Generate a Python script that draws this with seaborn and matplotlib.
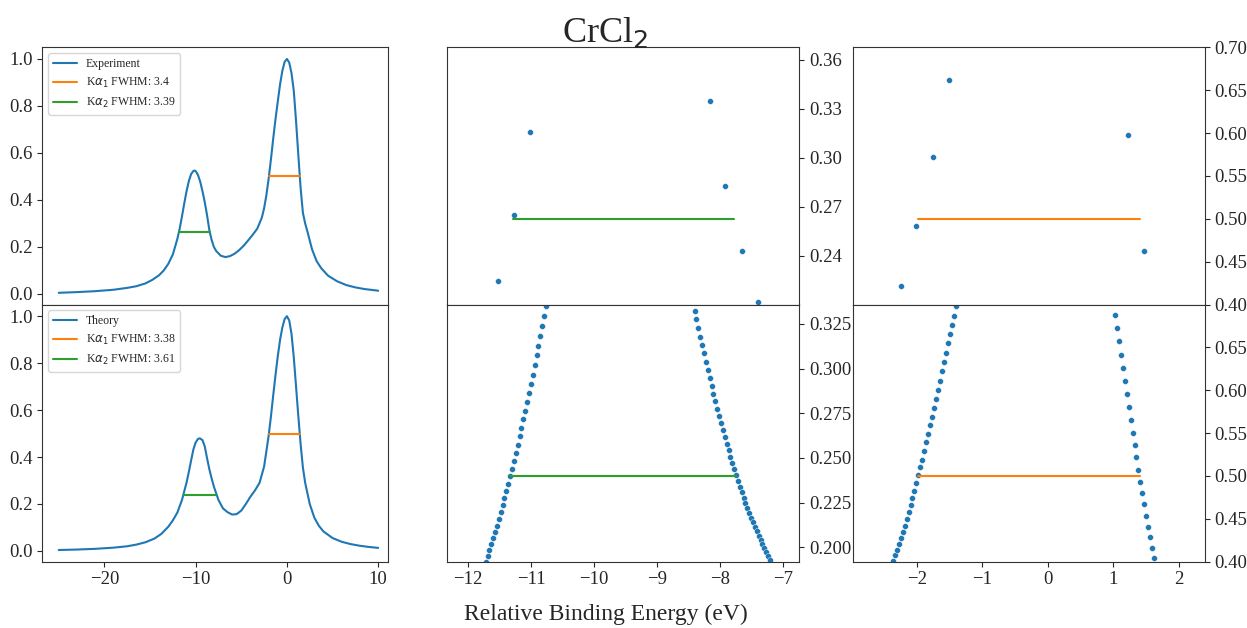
import matplotlib
matplotlib.use("Agg")
import matplotlib.pyplot as plt
from matplotlib.ticker import MaxNLocator
import seaborn as sns

# ---------------- data ----------------
# Experimental spectrum (left, top)
exp_x = [-25.0, -23.0, -21.0, -19.0, -17.5, -16.5, -15.5, -14.75, -14.0, -13.5,
         -13.0, -12.5, -12.0, -11.75, -11.5, -11.25, -11.0, -10.75, -10.5, -10.25,
         -10.125, -10.0, -9.75, -9.5, -9.25, -9.0, -8.75, -8.5, -8.25, -8.0, -7.75,
         -7.25, -6.75, -6.25, -5.75, -5.25, -4.75, -4.25, -3.75, -3.25, -2.75,
         -2.5, -2.25, -2.0, -1.75, -1.5, -1.25, -1.0, -0.75, -0.5, -0.25,
         0.0, 0.25, 0.5, 0.75, 1.0, 1.25, 1.5, 1.75, 2.0, 2.25,
         2.75, 3.25, 3.75, 4.5, 5.5, 6.5, 7.5, 8.5, 10.0]
exp_y = [0.005, 0.008, 0.012, 0.018, 0.026, 0.033, 0.045, 0.060, 0.080, 0.100,
         0.128, 0.168, 0.235, 0.278, 0.330, 0.385, 0.437, 0.480, 0.510, 0.5235,
         0.5254, 0.523, 0.507, 0.478, 0.437, 0.390, 0.335, 0.272, 0.230, 0.200, 0.183,
         0.163, 0.157, 0.161, 0.171, 0.186, 0.205, 0.228, 0.252, 0.278, 0.325,
         0.365, 0.421, 0.492, 0.574, 0.662, 0.745, 0.82, 0.893, 0.95, 0.988,
         1.0, 0.985, 0.94, 0.865, 0.735, 0.59, 0.45, 0.345, 0.30, 0.265,
         0.19, 0.14, 0.11, 0.078, 0.054, 0.038, 0.028, 0.021, 0.014]

# Theoretical spectrum (left, bottom)
theory_x = [-25.0, -23.0, -21.0, -19.0, -17.5, -16.5, -15.5, -14.5, -13.75, -13.0,
            -12.5, -12.0, -11.5, -11.0, -10.75, -10.5, -10.25, -10.0, -9.75, -9.55,
            -9.25, -9.0, -8.75, -8.5, -8.25, -8.0, -7.5, -7.0, -6.5, -6.0,
            -5.5, -5.0, -4.5, -4.0, -3.5, -3.0, -2.5, -2.25, -2.0, -1.75,
            -1.5, -1.25, -1.0, -0.75, -0.5, -0.25, 0.0, 0.25, 0.5, 0.75,
            1.0, 1.25, 1.5, 1.75, 2.0, 2.5, 3.0, 3.5, 4.0, 5.0,
            6.0, 7.0, 8.0, 9.0, 10.0]
theory_y = [0.004, 0.006, 0.009, 0.014, 0.020, 0.027, 0.037, 0.053, 0.073, 0.103,
            0.130, 0.164, 0.217, 0.291, 0.336, 0.385, 0.432, 0.462, 0.477, 0.4798,
            0.472, 0.445, 0.395, 0.348, 0.309, 0.2737, 0.217, 0.181, 0.165, 0.155,
            0.157, 0.172, 0.200, 0.231, 0.258, 0.290, 0.360, 0.425, 0.492, 0.574,
            0.664, 0.75, 0.83, 0.90, 0.952, 0.988, 1.0, 0.982, 0.925, 0.825,
            0.70, 0.573, 0.454, 0.355, 0.29, 0.20, 0.142, 0.107, 0.083, 0.055,
            0.039, 0.029, 0.022, 0.017, 0.013]

# Zoomed experimental samples near half maximum
exp_ka2_x = [-11.53, -11.27, -11.02, -8.16, -7.91, -7.65, -7.39]
exp_ka2_y = [0.2245, 0.2653, 0.3157, 0.3349, 0.2827, 0.2429, 0.2116]
exp_ka1_x = [-2.248, -2.008, -1.759, -1.515, 1.230, 1.474]
exp_ka1_y = [0.4213, 0.4915, 0.5725, 0.6616, 0.5977, 0.4628]

# Zoomed theoretical samples near half maximum
th_ka2_x = [-11.72, -11.69, -11.66, -11.63, -11.60, -11.57, -11.54, -11.51, -11.48, -11.45,
            -11.42, -11.39, -11.36, -11.33, -11.30, -11.27, -11.24, -11.21, -11.18, -11.15,
            -11.12, -11.09, -11.06, -11.03, -11.00, -10.97, -10.94, -10.91, -10.88, -10.85,
            -10.82, -10.79, -10.76,
            -8.40, -8.37, -8.34, -8.31, -8.28, -8.25, -8.22, -8.19, -8.16, -8.13, -8.10, -8.07,
            -8.04, -8.01, -7.98, -7.95, -7.92, -7.89, -7.86, -7.83, -7.80, -7.77, -7.74, -7.71,
            -7.68, -7.65, -7.62, -7.59, -7.56, -7.53, -7.50, -7.47, -7.44, -7.41, -7.38, -7.35,
            -7.32, -7.29, -7.26, -7.23, -7.20]
th_ka2_y = [0.1920, 0.1953, 0.1987, 0.2018, 0.2052, 0.2086, 0.2119, 0.2157, 0.2196, 0.2235,
            0.2274, 0.2315, 0.2356, 0.2397, 0.2440, 0.2483, 0.2526, 0.2574, 0.2621, 0.2668,
            0.2716, 0.2765, 0.2813, 0.2864, 0.2914, 0.2966, 0.3020, 0.3074, 0.3128, 0.3183,
            0.3239, 0.3295, 0.3349,
            0.3324, 0.3276, 0.3227, 0.3179, 0.3132, 0.3086, 0.3037, 0.2992, 0.2949, 0.2905,
            0.2860, 0.2819, 0.2776, 0.2737, 0.2696, 0.2657, 0.2617, 0.2580, 0.2543, 0.2507,
            0.2472, 0.2436, 0.2404, 0.2371, 0.2339, 0.2308, 0.2278, 0.2250, 0.2220, 0.2194,
            0.2166, 0.2140, 0.2114, 0.2089, 0.2065, 0.2041, 0.2018, 0.1996, 0.1974, 0.1951,
            0.1931]
th_ka1_x = [-2.365, -2.335, -2.305, -2.275, -2.245, -2.215, -2.185, -2.155, -2.125, -2.095,
            -2.065, -2.035, -2.005, -1.975, -1.945, -1.915, -1.885, -1.855, -1.825, -1.795,
            -1.765, -1.735, -1.705, -1.675, -1.645, -1.615, -1.585, -1.555, -1.525, -1.495,
            -1.465, -1.435, -1.405,
            1.025, 1.055, 1.085, 1.115, 1.145, 1.175, 1.205, 1.235, 1.265, 1.295, 1.325, 1.355,
            1.385, 1.415, 1.445, 1.475, 1.505, 1.535, 1.565, 1.595, 1.625]
th_ka1_y = [0.4007, 0.4074, 0.4136, 0.4206, 0.4272, 0.4346, 0.4420, 0.4494, 0.4576, 0.4658,
            0.4739, 0.4829, 0.4915, 0.5008, 0.5102, 0.5191, 0.5292, 0.5390, 0.5487, 0.5588,
            0.5690, 0.5791, 0.5900, 0.6005, 0.6110, 0.6219, 0.6328, 0.6437, 0.6546, 0.6655,
            0.6764, 0.6870, 0.6979,
            0.6881, 0.6725, 0.6570, 0.6414, 0.6254, 0.6106, 0.5951, 0.5799, 0.5651, 0.5503,
            0.5355, 0.5215, 0.5074, 0.4934, 0.4798, 0.4669, 0.4537, 0.4409, 0.4288, 0.4163,
            0.4046]

# Half maxima and FWHM segments
exp_half = [0.5, 0.2627]          # [Ka1, Ka2]
th_half = [0.4999, 0.2399]
exp_fwhm_label = ["3.4", "3.39"]
th_fwhm_label = ["3.38", "3.61"]
exp_ka1_seg_full = [-1.985, 1.415]
exp_ka2_seg_full = [-11.84, -8.44]
exp_ka1_seg_zoom = [-1.975, 1.405]
exp_ka2_seg_zoom = [-11.285, -7.772]
th_ka1_seg = [-1.978, 1.401]
th_ka2_seg = [-11.329, -7.735]

title = "CrCl$_2$"
xlabel = "Relative Binding Energy (eV)"

# ---------------- style ----------------
sns.set_style("ticks")
plt.rcParams["font.family"] = ["Liberation Serif", "DejaVu Serif"]
plt.rcParams["axes.edgecolor"] = "#333333"
TICK_FS = 13.5

blue, orange, green = "#1f77b4", "#ff7f0e", "#2ca02c"

W, H = 1247, 628
fig = plt.figure(figsize=(W / 100, H / 100), dpi=100)


def add_ax(x0, y_top, w, h):
    return fig.add_axes([x0 / W, 1 - (y_top + h) / H, w / W, h / H])


row_h = 257.2
cols = [(42.3, 345.5), (447.3, 352.0), (852.7, 352.3)]
tops = [47.3, 47.3 + row_h]

axes = [[add_ax(c[0], t, c[1], row_h) for c in cols] for t in tops]

# ---- left column: full spectra ----
for r, (sx, sy, name, half, seg1, seg2, labs) in enumerate([
        (exp_x, exp_y, "Experiment", exp_half, exp_ka1_seg_full, exp_ka2_seg_full, exp_fwhm_label),
        (theory_x, theory_y, "Theory", th_half, th_ka1_seg, th_ka2_seg, th_fwhm_label)]):
    ax = axes[r][0]
    sns.lineplot(x=sx, y=sy, ax=ax, color=blue, linewidth=1.5, label=name)
    sns.lineplot(x=seg1, y=[half[0]] * 2, ax=ax, color=orange, linewidth=1.5,
                 label=r"K$\alpha_1$ FWHM: " + labs[0])
    sns.lineplot(x=seg2, y=[half[1]] * 2, ax=ax, color=green, linewidth=1.5,
                 label=r"K$\alpha_2$ FWHM: " + labs[1])
    ax.set_xlim(-26.8, 11.05)
    ax.legend(loc="upper left", fontsize=8.5, frameon=True)
    ax.set_xticks([-20, -10, 0, 10])
    ax.tick_params(labelsize=TICK_FS)
    ax.set_xlabel("")
    ax.set_ylabel("")

# ---- zoom panels ----
zoom_specs = [
    (0, 1, exp_ka2_x, exp_ka2_y, exp_half[1], exp_ka2_seg_zoom, green, th_ka2_seg),
    (0, 2, exp_ka1_x, exp_ka1_y, exp_half[0], exp_ka1_seg_zoom, orange, th_ka1_seg),
    (1, 1, th_ka2_x, th_ka2_y, th_half[1], th_ka2_seg, green, th_ka2_seg),
    (1, 2, th_ka1_x, th_ka1_y, th_half[0], th_ka1_seg, orange, th_ka1_seg),
]
for r, c, zx, zy, half, seg, col, xseg in zoom_specs:
    ax = axes[r][c]
    sns.scatterplot(x=zx, y=zy, ax=ax, color=blue, s=18, edgecolor="white", linewidth=0.3)
    sns.lineplot(x=seg, y=[half, half], ax=ax, color=col, linewidth=1.5)
    ax.set_xlim(xseg[0] - 1, xseg[1] + 1)
    ax.set_ylim(0.8 * half, 1.4 * half)
    ax.yaxis.tick_right()
    ax.yaxis.set_major_locator(MaxNLocator(nbins=6))
    ax.xaxis.set_major_locator(MaxNLocator(nbins=6, integer=True))
    ax.tick_params(labelsize=TICK_FS)
    ax.set_xlabel("")
    ax.set_ylabel("")

for ax in axes[0]:
    ax.tick_params(axis="x", bottom=False, labelbottom=False)

fig.text(605.5 / W, 1 - 32 / H, title, ha="center", va="center", fontsize=26)
fig.text(605.5 / W, 1 - 614 / H, xlabel, ha="center", va="center", fontsize=17)

fig.savefig("out.png", dpi=100)
